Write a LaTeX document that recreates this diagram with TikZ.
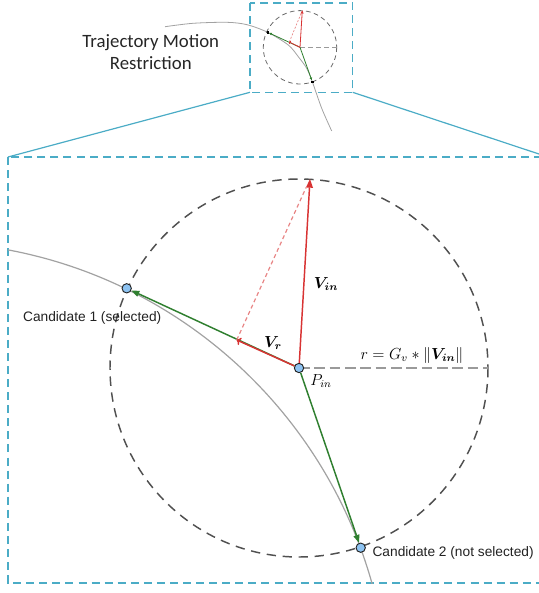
\documentclass[tikz,border=0pt]{standalone}
\usepackage{amsmath}
\usepackage{amssymb}
\usepackage{fontspec}
\usepackage{tikz}
\usetikzlibrary{positioning,arrows.meta}
\newfontfamily\calibrifont{Carlito}
\newfontfamily\arialfont{Liberation Sans}
\definecolor{ink}{HTML}{222222}
\definecolor{aqua}{HTML}{4BACC6}
\definecolor{vred}{HTML}{D83333}
\definecolor{selgreen}{HTML}{2F7F2F}
\definecolor{rimgray}{HTML}{505050}
\definecolor{radgray}{HTML}{9A9A9A}
\definecolor{trajgray}{HTML}{A2A2A2}
\definecolor{dotblue}{HTML}{8DC3F2}

\begin{document}
\begin{tikzpicture}[x=0.75pt,y=-0.75pt,
     zoomframe/.style={draw=aqua,line width=.9pt,dash pattern=on 6pt off 3.8pt},
     zoomline/.style={draw=aqua,line width=.9pt},
     traj/.style={draw=trajgray,line width=.9pt},
     rim/.style={draw=rimgray,line width=1.1pt,dash pattern=on 7pt off 5pt},
     radius/.style={draw=radgray,line width=1.1pt,dash pattern=on 8pt off 3.5pt},
     cand/.style={circle,draw=ink,fill=dotblue,line width=.7pt,inner sep=0pt,minimum size=7pt},
     minidot/.style={fill=black,inner sep=0pt,minimum size=1.8pt},
     sel/.style={draw=selgreen,line width=1.1pt,-{Triangle[length=6pt,width=4.5pt]}},
     vin/.style={draw=vred,line width=1.1pt,-{Triangle[length=6.5pt,width=5pt]}},
     vr/.style={draw=vred,line width=1.1pt,-{To[length=3pt,width=6pt]}},
     vsum/.style={draw=vred!60,line width=.9pt,dash pattern=on 3pt off 2.2pt},
     candlabel/.style={font=\arialfont\fontsize{10.3}{12}\selectfont,text=ink,inner sep=0pt},
     mathlabel/.style={font=\fontsize{12}{14}\selectfont,inner sep=0pt}]
    \useasboundingbox (0,0) rectangle (539,593);
    % frames and zoom lines
    \coordinate (sNW) at (250,3); \coordinate (sSE) at (352.7,92.3);
    \coordinate (sSW) at (250,92.3); \coordinate (sNE) at (352.7,92.3);
    \coordinate (bNW) at (8,157); \coordinate (bNE) at (548,157); \coordinate (bSE) at (548,583);
    \draw[zoomframe] (sNW) rectangle (sSE);
    \draw[zoomframe] (bNW) rectangle (bSE);
    \draw[zoomline] (sSW)--(bNW); \draw[zoomline] (sNE)--(bNE);
    \node[font=\calibrifont\fontsize{14.1}{16.7}\selectfont,align=center,inner sep=0pt,text=black!85] (title) at (150.8,52) {Trajectory Motion\\Restriction};
    % inset
    \coordinate (sPin) at (300,47.3); \coordinate (srim) at (337,47.3);
    \coordinate (svin) at (302.3,10.5); \coordinate (svr) at (289.3,42);
    \draw[traj,line width=.6pt] plot[smooth] coordinates {(165,26.7) (193,23.3) (227,22.3) (247,24.7) (267.7,32.3)
      (288.3,45) (298.3,56.7) (306.7,68.3) (312.3,81.7) (321.7,108.3) (331.7,131)};
    \draw[rim,draw=rimgray!85,line width=.6pt,dash pattern=on 3.5pt off 2.6pt] (sPin) circle (36.7);
    \draw[radius,line width=.6pt,dash pattern=on 4pt off 2pt] (sPin)--(srim);
    \node[minidot] (sc1) at (267.7,32.3) {}; \node[minidot] (sc2) at (312.3,81.7) {};
    \draw[sel,line width=.6pt,-{Triangle[length=2pt,width=1.8pt]}] (sPin)--(sc1);
    \draw[sel,line width=.6pt,-{Triangle[length=2pt,width=1.8pt]}] (sPin)--(sc2);
    \draw[vsum,line width=.5pt,dash pattern=on 1.5pt off 1.2pt] (svr)--(svin);
    \draw[vr,line width=.6pt,-{To[length=1pt,width=2.5pt]}] (sPin)--(svr);
    \draw[vin,line width=.6pt,-{Triangle[length=2.2pt,width=2pt]}] (sPin)--(svin);
    % main view
    \coordinate (ctr) at (299,368); \coordinate (rimpt) at (488,368);
    \coordinate (vinend) at (310,179); \coordinate (vrend) at (236.7,340);
    \coordinate (trajc) at (-78.4,709.5);
    \begin{scope}
      \clip (bNW) rectangle (bSE);
      \draw[traj] (trajc) circle (467.6);
    \end{scope}
    \draw[rim] (ctr) circle (189);
    \draw[radius] (ctr)--(rimpt);
    \node[cand] (Pin) at (ctr) {};
    \node[cand] (c1) at (126.7,288.3) {};
    \node[cand] (c2) at (360.7,547.7) {};
    \draw[sel] (Pin)--(c1);
    \draw[sel] (Pin)--(c2);
    \draw[vsum,shorten >=7pt] (vrend)--(vinend);
    \draw[vr] (Pin)--(vrend);
    \draw[vin] (Pin)--(vinend);
    \node[mathlabel] (lvin) at (326,284) {$\boldsymbol{V_{in}}$};
    \node[mathlabel] (lvr) at (273,343) {$\boldsymbol{V_r}$};
    \node[mathlabel] (lpin) at (321,381) {$P_{in}$};
    \node[mathlabel] (lrad) at (412,355) {$r = G_v * \|\boldsymbol{V_{in}}\|$};
    \node[candlabel,anchor=base] (l1) at (92.2,321.7) {Candidate 1 (selected)};
    \node[candlabel,anchor=base west] (l2) at (372.3,556.7) {Candidate 2 (not selected)};
  \end{tikzpicture}
\end{document}
